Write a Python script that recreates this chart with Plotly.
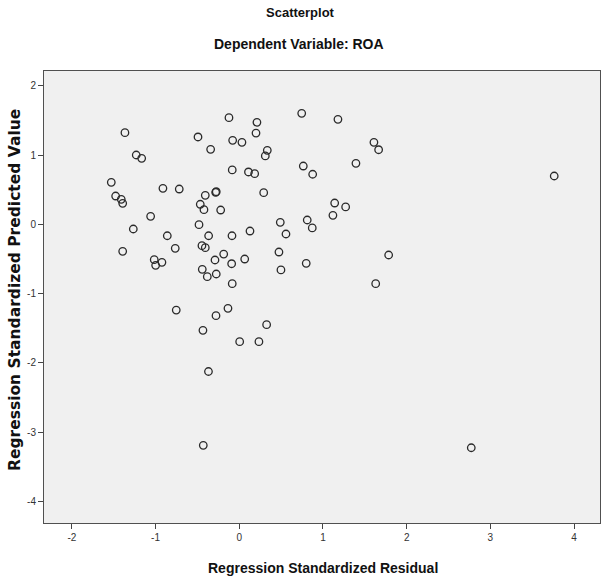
import plotly.graph_objects as go

# Regression Standardized Residual (x) and Regression Standardized Predicted Value (y)
resid = [-0.123, -1.366, -0.493, -0.079, 0.032, -0.342, -1.231, -1.166, -0.084, 0.110,
         -1.529, -0.912, -0.717, -1.477, -1.410, -1.393, -0.406, -0.282, -0.275, -0.466,
         -0.422, -0.222, -1.059, -0.481, -1.266, -0.860, -0.366, -0.087, 0.128, 0.746,
         1.179, 0.211, 0.200, 0.335, 0.311, 1.609, 1.665, 1.394, 0.765, 0.877,
         0.184, 0.292, 1.140, 1.271, 1.119, 0.490, 0.812, 0.872, 0.558, 3.763,
         -1.393, -0.765, -0.446, -0.406, -1.016, -0.999, -0.924, -0.186, -0.290, -0.091,
         0.065, -0.442, -0.382, -0.275, -0.084, -0.753, -0.135, -0.278, -0.434, 0.005,
         -0.368, -0.430, 2.772, 0.474, 0.800, 0.498, 1.785, 1.630, 0.327, 0.235]
pred = [1.538, 1.322, 1.260, 1.212, 1.183, 1.082, 1.000, 0.952, 0.784, 0.755,
        0.606, 0.519, 0.509, 0.408, 0.361, 0.303, 0.418, 0.462, 0.470, 0.289,
        0.211, 0.206, 0.115, -0.006, -0.068, -0.165, -0.165, -0.165, -0.097, 1.602,
        1.515, 1.472, 1.317, 1.068, 0.986, 1.183, 1.076, 0.880, 0.841, 0.722,
        0.730, 0.456, 0.307, 0.250, 0.130, 0.029, 0.062, -0.053, -0.140, 0.697,
        -0.390, -0.346, -0.309, -0.338, -0.511, -0.592, -0.548, -0.429, -0.515, -0.569,
        -0.501, -0.649, -0.756, -0.717, -0.857, -1.237, -1.212, -1.319, -1.530, -1.694,
        -2.124, -3.189, -3.224, -0.400, -0.563, -0.659, -0.443, -0.857, -1.449, -1.694]

x_ticks = [-2, -1, 0, 1, 2, 3, 4]
y_ticks = [2, 1, 0, -1, -2, -3, -4]

FONT = "Liberation Sans, Arial, sans-serif"

fig = go.Figure()
fig.add_trace(go.Scatter(
    x=resid, y=pred, mode="markers",
    marker=dict(symbol="circle-open", size=7.5, color="#2a2a2a", line=dict(width=1.3)),
    showlegend=False, hoverinfo="x+y"))

fig.update_layout(
    width=601, height=577,
    margin=dict(l=44, r=1, t=71, b=54),
    paper_bgcolor="white",
    plot_bgcolor="#F0F0F0",
    font=dict(family=FONT, color="#222"),
    xaxis=dict(range=[-2.333, 4.31], tickvals=x_ticks, ticktext=[str(v) for v in x_ticks],
               ticks="outside", ticklen=5, tickcolor="#444", showgrid=False, zeroline=False,
               showline=True, linecolor="#505050", linewidth=1, mirror=True,
               tickfont=dict(size=10, color="#333")),
    yaxis=dict(range=[-4.31, 2.212], tickvals=y_ticks, ticktext=[str(v) for v in y_ticks],
               ticks="outside", ticklen=5, tickcolor="#444", showgrid=False, zeroline=False,
               showline=True, linecolor="#505050", linewidth=1, mirror=True,
               tickfont=dict(size=10, color="#333")),
    annotations=[
        dict(text="<b>Scatterplot</b>", x=300, y=12, xref="paper", yref="paper",
             showarrow=False, font=dict(size=13, color="#111"),
             xanchor="center", yanchor="middle"),
        dict(text="<b>Dependent Variable: ROA</b>", x=299, y=44, xref="paper", yref="paper",
             showarrow=False, font=dict(size=14, color="#111"),
             xanchor="center", yanchor="middle"),
        dict(text="<b>Regression Standardized Residual</b>", x=323, y=568, xref="paper", yref="paper",
             showarrow=False, font=dict(size=14, color="#111"),
             xanchor="center", yanchor="middle"),
        dict(text="<b>Regression Standardized Predicted Value</b>", x=15, y=290,
             xref="paper", yref="paper", showarrow=False, textangle=-90,
             font=dict(size=15.5, color="#111", family="DejaVu Sans, sans-serif"),
             xanchor="center", yanchor="middle"),
    ],
)

# convert pixel positions of annotations into paper coordinates
W, H = 601, 577
l, r, t, b = 44, 1, 71, 54
pw, ph = W - l - r, H - t - b
for a in fig.layout.annotations:
    px, py = a.x, a.y
    a.x = (px - l) / pw
    a.y = (H - b - py) / ph

fig.write_html("out.html")
